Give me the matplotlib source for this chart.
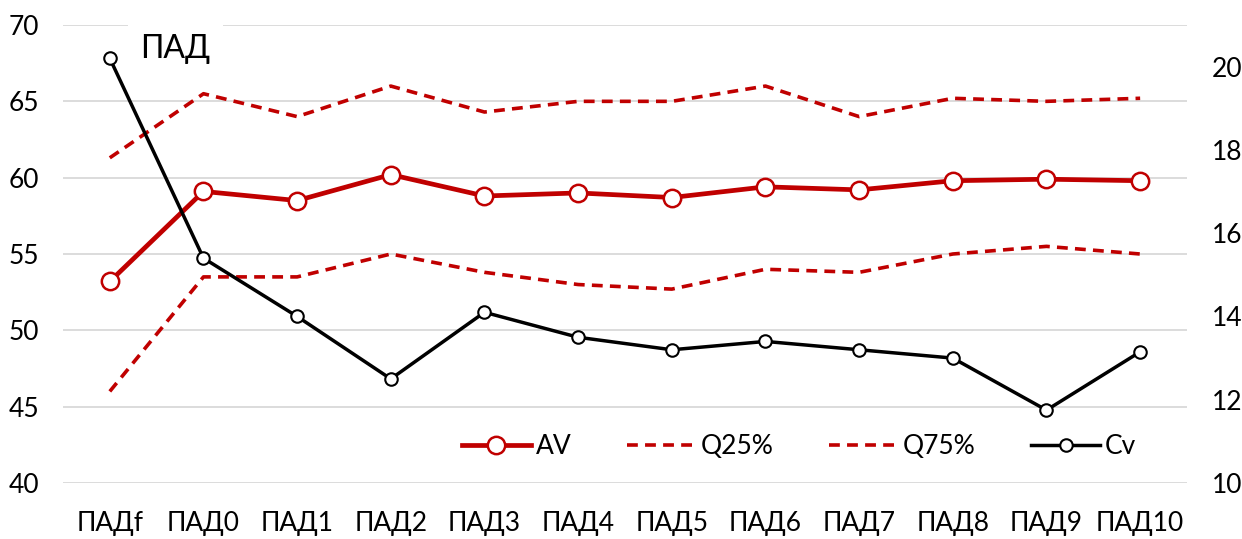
import matplotlib
matplotlib.use("Agg")
import matplotlib.pyplot as plt

plt.rcParams['font.family'] = ['Lato', 'DejaVu Sans']

# данные
categories = ["ПАДf", "ПАД0", "ПАД1", "ПАД2", "ПАД3", "ПАД4",
              "ПАД5", "ПАД6", "ПАД7", "ПАД8", "ПАД9", "ПАД10"]
av = [53.2, 59.1, 58.5, 60.2, 58.8, 59.0, 58.7, 59.4, 59.2, 59.8, 59.9, 59.8]
q25 = [46.0, 53.5, 53.5, 55.0, 53.8, 53.0, 52.7, 54.0, 53.8, 55.0, 55.5, 55.0]
q75 = [61.3, 65.5, 64.0, 66.0, 64.3, 65.0, 65.0, 66.0, 64.0, 65.2, 65.0, 65.2]
cv = [20.2, 15.4, 14.0, 12.5, 14.1, 13.5, 13.2, 13.4, 13.2, 13.0, 11.75, 13.15]

left_ticks = [40, 45, 50, 55, 60, 65, 70]
right_ticks = [10, 12, 14, 16, 18, 20]

RED = "#C00000"
x = range(len(categories))

fig = plt.figure(figsize=(12.42, 5.39), dpi=100)
ax = fig.add_axes([0.0507, 0.1039, 0.905, 0.8497])
ax2 = ax.twinx()

# основная ось
l_q25, = ax.plot(x, q25, color=RED, lw=2.6, ls=(0, (3, 2)), label="Q25%", zorder=3)
l_q75, = ax.plot(x, q75, color=RED, lw=2.6, ls=(0, (3, 2)), label="Q75%", zorder=3)
l_av, = ax.plot(x, av, color=RED, lw=3.4, marker="o", ms=12.5, mfc="white",
                mec=RED, mew=1.8, label="AV", zorder=4)

# вторая ось - Cv
l_cv, = ax2.plot(x, cv, color="black", lw=2.5, marker="o", ms=9, mfc="white",
                 mec="black", mew=1.5, label="Cv", zorder=4)

ax.set_ylim(40, 70)
ax.set_yticks(left_ticks)
ax2.set_ylim(10, 21)
ax2.set_yticks(right_ticks)
ax.set_xlim(-0.5, len(categories) - 0.5)
ax.set_xticks(list(x))
ax.set_xticklabels(categories)

ax.grid(axis="y", color="#D9D9D9", lw=1.3, zorder=0)
ax.set_axisbelow(True)
for a in (ax, ax2):
    for s in a.spines.values():
        s.set_visible(False)
    a.tick_params(length=0, labelsize=19, colors="black")
ax.tick_params(axis="y", pad=17)
ax.tick_params(axis="x", pad=20)
ax2.tick_params(axis="y", pad=18)

ax.text(0.7, 68.4, "ПАД", fontsize=23, ha="center", va="center", zorder=5,
        bbox=dict(facecolor="white", edgecolor="none", pad=9))

ax2.legend(handles=[l_av, l_q25, l_q75, l_cv], ncol=4, frameon=False,
           loc="center left", bbox_to_anchor=(0.355, 0.079), fontsize=19,
           borderaxespad=0, borderpad=0,
           handlelength=2.6, handletextpad=0.2, columnspacing=2.1)

fig.savefig("out.png", dpi=100)
